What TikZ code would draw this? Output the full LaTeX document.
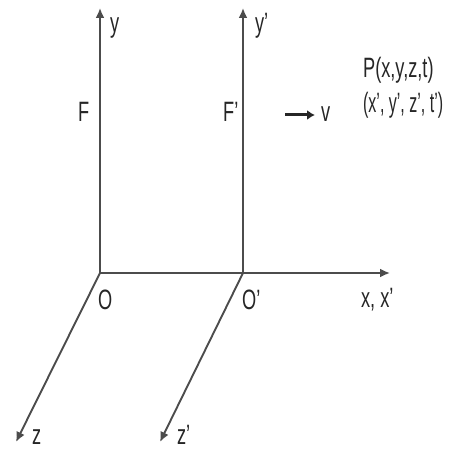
\documentclass[tikz,border=0pt]{standalone}
\usepackage{fontspec}
\setmainfont{Liberation Sans}
\usetikzlibrary{arrows.meta}
\begin{document}
\begin{tikzpicture}[x=1bp, y=-1bp, every node/.style={xscale=0.65, inner sep=0pt, font=\fontsize{28bp}{35bp}\selectfont}]
        \tikzstyle{axis} = [draw=black!70, line width=1.9bp, -{Latex[length=10bp, width=9bp]}]
        \tikzstyle{vel} = [draw=black!85, line width=3bp, -{Latex[length=8bp, width=10bp]}, shorten >=6bp]
        \tikzstyle{lbl} = [anchor=base west, text=black!85]
        \useasboundingbox (0,0) rectangle (452,451);
        \coordinate (O) at (100,273);
        \coordinate (Op) at (243,273);
        \coordinate (Y) at (100,8);
        \coordinate (Yp) at (243,8);
        \coordinate (X) at (390,273);
        \coordinate (Z) at (16,442);
        \coordinate (Zp) at (160,442);
        \coordinate (v0) at (285,115);
        \draw[axis] (O) -- (Y);
        \draw[axis] (Op) -- (Yp);
        \draw[axis] (O) -- (X);
        \draw[axis] (O) -- (Z);
        \draw[axis] (Op) -- (Zp);
        \node[lbl] (ylab) at (110,33) {y};
        \node[lbl] (yplab) at (255,33) {y'};
        \node[lbl] (F) at (78,122) {F};
        \node[lbl] (Fp) at (223,122) {F'};
        \node[lbl] (vlab) at (321,122) {v};
        \draw[vel] (v0) -- (v0 -| vlab.west);
        \node[lbl] (P) at (363,78) {P(x,y,z,t)};
        \node[lbl, xscale=0.88] (Pp) at (363,113) {(x', y', z', t')};
        \node[lbl] (Olab) at (98,309) {O};
        \node[lbl] (Oplab) at (242,309) {O'};
        \node[lbl] (xlab) at (361,307) {x, x'};
        \node[lbl] (zlab) at (32,444) {z};
        \node[lbl] (zplab) at (177,444) {z'};
      \end{tikzpicture}
\end{document}
